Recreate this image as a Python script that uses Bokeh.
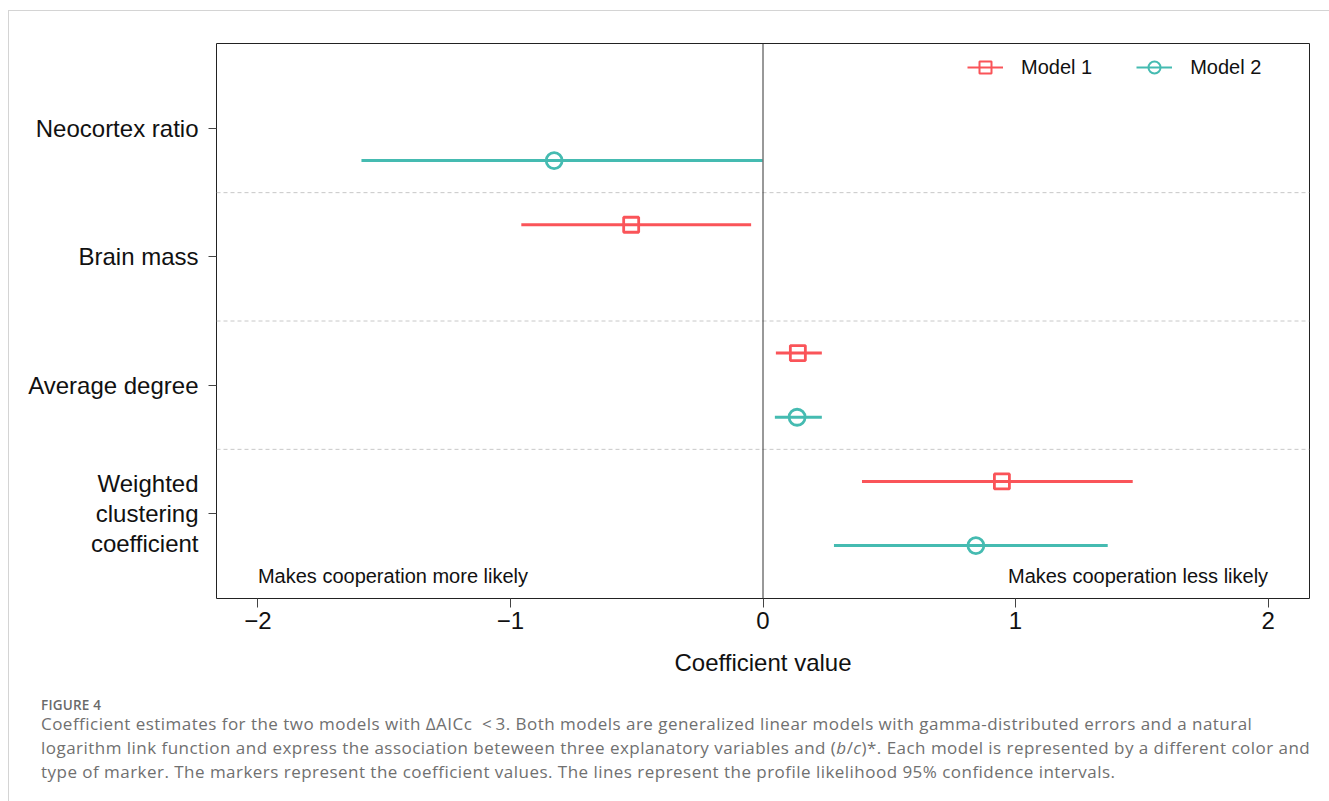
import numpy as np
from bokeh.plotting import figure
from bokeh.models import (FixedTicker, Span, Label, Legend, LegendItem, Range1d, Div)
from bokeh.layouts import column
from bokeh.embed import file_html
from bokeh.resources import INLINE

# ---------------- data ----------------
variables = ["Neocortex ratio", "Brain mass", "Average degree",
             "Weighted\nclustering\ncoefficient"]
var_pos = [4, 3, 2, 1]

m1_vars = ["Brain mass", "Average degree", "Weighted\nclustering\ncoefficient"]
m1_est = [-0.522, 0.138, 0.946]
m1_lo = [-0.957, 0.051, 0.392]
m1_hi = [-0.047, 0.233, 1.464]

m2_vars = ["Neocortex ratio", "Average degree", "Weighted\nclustering\ncoefficient"]
m2_est = [-0.827, 0.135, 0.843]
m2_lo = [-1.590, 0.047, 0.281]
m2_hi = [-0.002, 0.233, 1.365]

x_ticks = [-2, -1, 0, 1, 2]
x_tick_labels = ["\u22122", "\u22121", "0", "1", "2"]

RED = "#FA5459"
TEAL = "#45BBB1"
FONT = "Liberation Sans"

pos = dict(zip(variables, var_pos))
m1_y = [pos[v] + 0.25 for v in m1_vars]
m2_y = [pos[v] - 0.25 for v in m2_vars]

p = figure(width=1321, height=678, output_backend="svg", toolbar_location=None,
           x_range=Range1d(-2.164, 2.164), y_range=Range1d(0.338, 4.662),
           min_border_left=207, min_border_right=21, min_border_top=32,
           min_border_bottom=91)
p.grid.visible = False
p.outline_line_color = "#222222"
p.outline_line_width = 1
p.background_fill_color = "white"
p.border_fill_color = "white"

# separators and zero line
for yy in [1.5, 2.5, 3.5]:
    p.add_layout(Span(location=yy, dimension="width", line_color="#c8c8c8",
                      line_dash="4 3", line_width=1))
p.add_layout(Span(location=0, dimension="height", line_color="#333333", line_width=1))

# CIs and estimates
p.segment(x0=m1_lo, y0=m1_y, x1=m1_hi, y1=m1_y, line_color=RED, line_width=3)
p.scatter(x=m1_est, y=m1_y, marker="square", size=15, fill_color=None,
          line_color=RED, line_width=2.8)
p.segment(x0=m2_lo, y0=m2_y, x1=m2_hi, y1=m2_y, line_color=TEAL, line_width=3)
p.scatter(x=m2_est, y=m2_y, marker="circle", size=16, fill_color=None,
          line_color=TEAL, line_width=2.8)

# legend dummies (NaN data: nothing drawn in the plot)
nan = np.array([np.nan])
l1 = p.line(x=nan, y=nan, line_color=RED, line_width=2)
s1 = p.scatter(x=nan, y=nan, marker="square", fill_color=None, line_color=RED, line_width=2)
l2 = p.line(x=nan, y=nan, line_color=TEAL, line_width=2)
s2 = p.scatter(x=nan, y=nan, marker="circle", fill_color=None, line_color=TEAL, line_width=2)
legend = Legend(items=[LegendItem(label="Model 1", renderers=[l1, s1]),
                       LegendItem(label="Model 2", renderers=[l2, s2])],
                orientation="horizontal", location=(751, 516),
                glyph_width=36, glyph_height=30, label_standoff=18, spacing=44,
                padding=0, margin=0, border_line_color=None,
                background_fill_alpha=0,
                label_text_font=FONT, label_text_font_size="20px",
                label_text_color="#111111")
p.add_layout(legend)

# axes
xa = p.xaxis[0]
xa.ticker = FixedTicker(ticks=x_ticks)
xa.major_label_overrides = dict(zip(x_ticks, x_tick_labels))
xa.axis_line_color = None
xa.major_tick_in = 0
xa.major_tick_out = 9
xa.major_tick_line_color = "#444444"
xa.minor_tick_line_color = None
xa.major_label_text_font = FONT
xa.major_label_text_font_size = "24px"
xa.major_label_text_color = "#111111"
xa.major_label_standoff = 4
xa.axis_label = "Coefficient value"
xa.axis_label_text_font = FONT
xa.axis_label_text_font_size = "24px"
xa.axis_label_text_font_style = "normal"
xa.axis_label_text_color = "#111111"
xa.axis_label_standoff = 17

ya = p.yaxis[0]
ya.ticker = FixedTicker(ticks=var_pos)
ya.major_label_overrides = dict(zip(var_pos, variables))
ya.axis_line_color = None
ya.major_tick_in = 0
ya.major_tick_out = 8
ya.major_tick_line_color = "#444444"
ya.minor_tick_line_color = None
ya.major_label_text_font = FONT
ya.major_label_text_font_size = "24px"
ya.major_label_text_color = "#111111"
ya.major_label_text_line_height = 1.12
ya.major_label_standoff = 10
ya.major_label_orientation = "horizontal"

# annotations
p.add_layout(Label(x=-2, y=0.51, text="Makes cooperation more likely",
                   text_font=FONT, text_font_size="20px", text_color="#111111",
                   text_align="left", text_baseline="middle"))
p.add_layout(Label(x=2, y=0.51, text="Makes cooperation less likely",
                   text_font=FONT, text_font_size="20px", text_color="#111111",
                   text_align="right", text_baseline="middle"))

caption_html = (
    '<div style="font-family:\'Open Sans\',sans-serif;color:#707070;white-space:nowrap;'
    'padding-left:27px;padding-top:3px;">'
    '<div style="font-size:13.5px;line-height:16px;font-weight:600;color:#6a6a6a;letter-spacing:0.2px;">FIGURE 4</div>'
    '<div style="font-size:17px;line-height:24px;margin-top:-1px;letter-spacing:0.47px;">'
    'Coefficient estimates for the two models with \u0394AICc &nbsp;&lt;&#8201;3. Both models are generalized linear models with gamma-distributed errors and a natural<br>'
    'logarithm link function and express the association beteween three explanatory variables and (<i>b</i>/<i>c</i>)*. Each model is represented by a different color and<br>'
    'type of marker. The markers represent the coefficient values. The lines represent the profile likelihood 95% confidence intervals.'
    '</div></div>'
)
cap = Div(text=caption_html, width=1321, height=112)

layout = column(p, cap, margin=(10, 0, 0, 8),
                styles={"border-left": "1px solid #d4d4d4", "border-top": "1px solid #d4d4d4"})

open("out.html", "w").write(file_html(layout, INLINE))
